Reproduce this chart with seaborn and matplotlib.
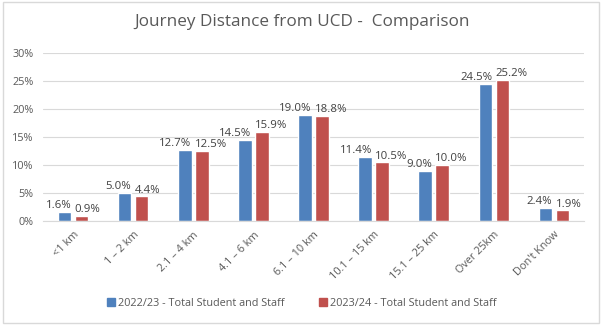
import matplotlib
matplotlib.use("Agg")
import matplotlib.pyplot as plt
import seaborn as sns
import pandas as pd
from matplotlib.patches import Rectangle
from matplotlib.ticker import PercentFormatter

categories = ["<1 km", "1 – 2 km", "2.1 – 4 km", "4.1 – 6 km", "6.1 – 10 km",
              "10.1 – 15 km", "15.1 – 25 km", "Over 25km", "Don't Know"]
series_2022 = [1.6, 5.0, 12.7, 14.5, 19.0, 11.4, 9.0, 24.5, 2.4]
series_2023 = [0.9, 4.4, 12.5, 15.9, 18.8, 10.5, 10.0, 25.2, 1.9]
series_names = ["2022/23 - Total Student and Staff", "2023/24 - Total Student and Staff"]
colors = ["#4F81BD", "#C0504D"]

df = pd.DataFrame({
    "Distance": categories * 2,
    "Value": series_2022 + series_2023,
    "Series": [series_names[0]] * len(categories) + [series_names[1]] * len(categories),
})

sns.set_style("white")
plt.rcParams["font.family"] = ["Open Sans", "DejaVu Sans"]
txt = "#595959"

fig = plt.figure(figsize=(6.04, 3.28), dpi=100)
ax = fig.add_axes([0.0712, 0.3262, 0.8957, 0.5122])

sns.barplot(data=df, x="Distance", y="Value", hue="Series", palette=colors,
            width=0.566, gap=0.2, ax=ax, legend=False, saturation=1)

# Data labels: first series aligned to bar's right edge, second to bar's left edge
for i, cont in enumerate(ax.containers):
    for patch, v in zip(cont.patches, cont.datavalues):
        if i == 0:
            x = patch.get_x() + patch.get_width()
            ha = "right"
        else:
            x = patch.get_x()
            ha = "left"
        ax.annotate(f"{v:.1f}%", (x, v), xytext=(0, 0.5), textcoords="offset points",
                    ha=ha, va="bottom", fontsize=8.2, color="#404040")

ax.set_ylim(0, 30)
ax.set_yticks(range(0, 31, 5))
ax.yaxis.set_major_formatter(PercentFormatter(decimals=0))
ax.grid(axis="y", color="#D9D9D9", linewidth=0.8)
ax.set_axisbelow(True)
for s in ["top", "right", "left"]:
    ax.spines[s].set_visible(False)
ax.spines["bottom"].set_color("#D9D9D9")
ax.set_xlabel("")
ax.set_ylabel("")
ax.tick_params(axis="both", length=0, labelsize=7.8, colors=txt)
ax.tick_params(axis="y", pad=7)
ax.tick_params(axis="x", pad=6)
plt.setp(ax.get_xticklabels(), rotation=45, ha="right", rotation_mode="anchor")
ax.set_xlim(-0.5, len(categories) - 0.5)

fig.text(0.5, 0.932, "Journey Distance from UCD -  Comparison", ha="center", va="center",
         fontsize=12.3, color=txt)

handles = [Rectangle((0, 0), 1, 1, color=c) for c in colors]
fig.legend(handles, series_names, loc="center", bbox_to_anchor=(0.5, 0.075), ncol=2,
           frameon=False, fontsize=7.8, labelcolor=txt, handlelength=0.7,
           handleheight=0.7, handletextpad=0.3, columnspacing=3.2)

fig.add_artist(Rectangle((0.005, 0.015), 0.987, 0.978, transform=fig.transFigure,
                         fill=False, edgecolor="#D9D9D9", linewidth=1))

fig.savefig("out.png", dpi=100)
